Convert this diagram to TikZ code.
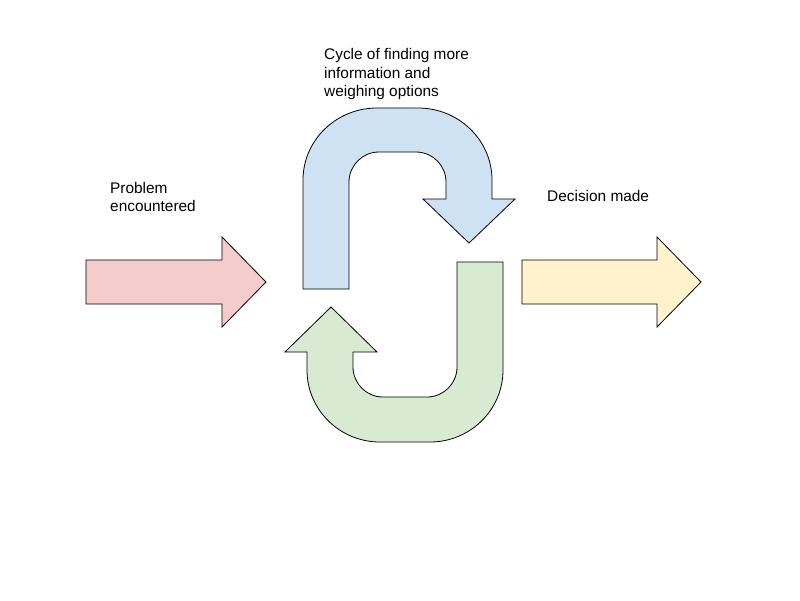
\documentclass[tikz,border=0pt]{standalone}
\usepackage{fontspec}
\setmainfont{Liberation Sans}
\usepackage{tikz}
\usetikzlibrary{positioning}
\definecolor{problempink}{HTML}{F4CCCC}
\definecolor{cycleblue}{HTML}{CFE2F3}
\definecolor{cyclegreen}{HTML}{D9EAD3}
\definecolor{decisionyellow}{HTML}{FFF2CC}

\begin{document}
\begin{tikzpicture}[
    x=1pt, y=-1pt,
    every node/.style={font=\fontsize{15.4}{18.2}\selectfont},
    label/.style={anchor=north west, inner sep=0pt, align=left},
    blockarrow/.style={draw=black, line width=0.8pt, line join=miter}
]
\useasboundingbox (0,0) rectangle (800,600);

% Problem arrow
\draw[blockarrow, fill=problempink] (86,260) -- (222,260) -- (222,237) -- (266,282)
    -- (222,327) -- (222,304) -- (86,304) -- cycle;

% Upper half of the cycle
\draw[blockarrow, fill=cycleblue] (303,289) -- (303,180)
    arc[start angle=180, end angle=90, x radius=74pt, y radius=72pt] -- (418,108)
    arc[start angle=90, end angle=0, x radius=74pt, y radius=72pt] -- (492,199)
    -- (515,199) -- (469,243) -- (423,199) -- (446,199) -- (446,182)
    arc[start angle=0, end angle=90, radius=30pt] -- (379,152)
    arc[start angle=90, end angle=180, radius=30pt] -- (349,289) -- cycle;

% Lower half of the cycle
\draw[blockarrow, fill=cyclegreen] (457,262) -- (503,262) -- (503,370)
    arc[start angle=0, end angle=-90, x radius=73pt, y radius=72pt] -- (380,442)
    arc[start angle=-90, end angle=-180, x radius=73pt, y radius=72pt] -- (307,352)
    -- (285,352) -- (331,307) -- (377,352) -- (353,352) -- (353,367)
    arc[start angle=180, end angle=270, radius=30pt] -- (427,397)
    arc[start angle=270, end angle=360, radius=30pt] -- cycle;

% Decision arrow
\draw[blockarrow, fill=decisionyellow] (522,260) -- (657,260) -- (657,237) -- (701,282)
    -- (657,327) -- (657,304) -- (522,304) -- cycle;

% Labels
\node[label] (problem) at (110,182) {Problem\\encountered};
\node[label] (cycle) at (324,48.5) {Cycle of finding more\\information and\\weighing options};
\node[label] (decision) at (547,190.5) {Decision made};

\end{tikzpicture}
\end{document}
